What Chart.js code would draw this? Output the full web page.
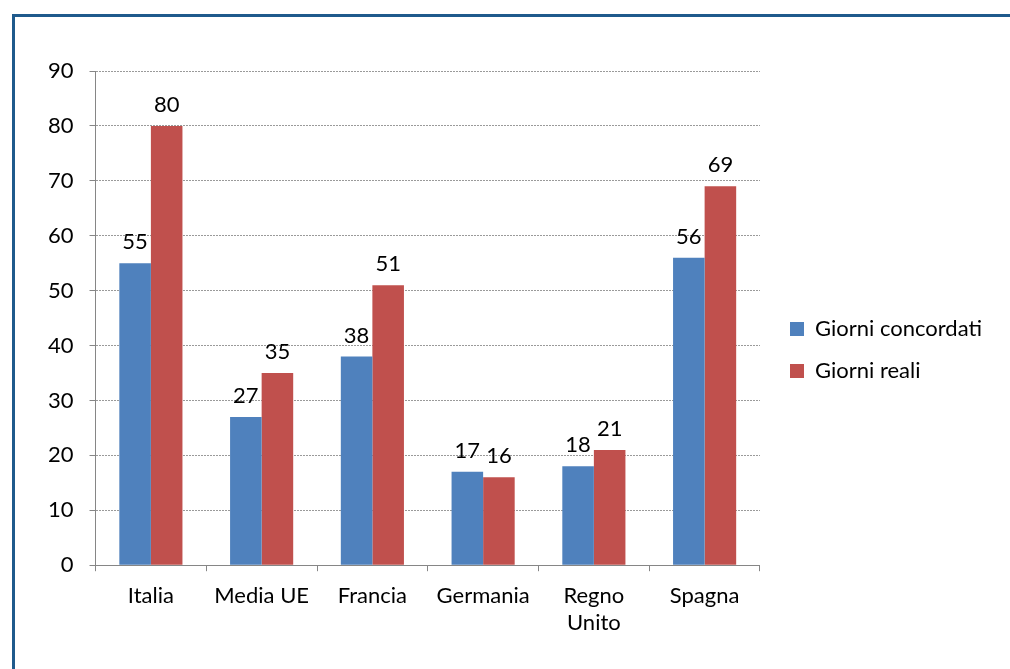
<!DOCTYPE html>
<html>
<head>
<meta charset="utf-8">
<script src="https://cdn.jsdelivr.net/npm/chart.js@4/dist/chart.umd.min.js"></script>
<style>
  html, body { margin: 0; padding: 0; background: #fff; overflow: hidden; }
  .frame {
    position: absolute; left: 12px; top: 14px; width: 1100px; height: 800px;
    border: 3px solid #1f5a8c; box-sizing: border-box;
  }
  .wrap { position: absolute; left: 0; top: 0; width: 1010px; height: 669px; }
</style>
</head>
<body>
<div class="frame"></div>
<div class="wrap"><canvas id="chart"></canvas></div>
<script>
const categories = ['Italia', 'Media UE', 'Francia', 'Germania', ['Regno', 'Unito'], 'Spagna'];
const giorniConcordati = [55, 27, 38, 17, 18, 56];
const giorniReali = [80, 35, 51, 16, 21, 69];
const yTicks = [0, 10, 20, 30, 40, 50, 60, 70, 80, 90];

const FONT = 'Lato, "Liberation Sans", sans-serif';
const SIZE = 22;

// draw the value above each bar
const barLabels = {
    id: 'barLabels',
    afterDatasetsDraw(chart) {
        const ctx = chart.ctx;
        ctx.save();
        ctx.font = SIZE + 'px ' + FONT;
        ctx.fillStyle = '#000';
        ctx.textAlign = 'center';
        ctx.textBaseline = 'bottom';
        chart.data.datasets.forEach((ds, i) => {
            chart.getDatasetMeta(i).data.forEach((bar, j) => {
                ctx.fillText(ds.data[j], bar.x, bar.y - 10);
            });
        });
        ctx.restore();
    }
};

// empty axes used only as spacers around the plot area
const spacer = (position, size) => ({
    position,
    display: true,
    grid: { display: false },
    border: { display: false },
    ticks: { display: false },
    afterFit(scale) {
        if (position === 'top') scale.height = size;
        else scale.width = size;
    }
});

new Chart(document.getElementById('chart'), {
    type: 'bar',
    data: {
        labels: categories,
        datasets: [
            { label: 'Giorni concordati', data: giorniConcordati, backgroundColor: '#4f81bd' },
            { label: 'Giorni reali', data: giorniReali, backgroundColor: '#c0504d' }
        ]
    },
    options: {
        responsive: true,
        maintainAspectRatio: false,
        animation: false,
        categoryPercentage: 0.57,
        barPercentage: 1.0,
        layout: { padding: { left: 32, top: 52, right: 18, bottom: 21 } },
        plugins: {
            legend: {
                position: 'right',
                maxWidth: 300,
                labels: {
                    boxWidth: 14, boxHeight: 14, padding: 20,
                    color: '#000', font: { family: FONT, size: SIZE }
                }
            },
            tooltip: { enabled: false }
        },
        scales: {
            x: {
                grid: {
                    drawOnChartArea: false, drawTicks: true, tickLength: 6,
                    color: '#868686'
                },
                border: { color: '#868686', width: 1 },
                ticks: { color: '#000', padding: 12, font: { family: FONT, size: SIZE }, maxRotation: 0 }
            },
            y: {
                min: 0, max: 90,
                afterBuildTicks(axis) { axis.ticks = yTicks.map(v => ({ value: v })); },
                grid: {
                    color: '#9a9a9a', tickLength: 6,
                    tickColor: '#868686', tickBorderDash: []
                },
                border: { color: '#868686', width: 1, dash: [2, 1] },
                ticks: { color: '#000', padding: 16, font: { family: FONT, size: SIZE } }
            },
            xTop: spacer('top', 19),
            yRight: spacer('right', 10)
        }
    },
    plugins: [barLabels]
});
</script>
</body>
</html>
